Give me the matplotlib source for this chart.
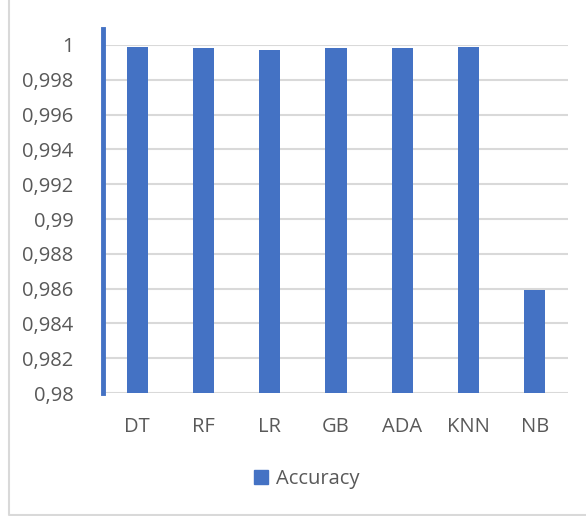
import matplotlib.pyplot as plt
from matplotlib.lines import Line2D
from matplotlib.patches import Patch
import matplotlib.ticker as ticker

models = ["DT", "RF", "LR", "GB", "ADA", "KNN", "NB"]
accuracy = [0.9999, 0.9998, 0.9997, 0.9998, 0.9998, 0.9999, 0.9859]
yticks = [0.98, 0.982, 0.984, 0.986, 0.988, 0.99, 0.992, 0.994, 0.996, 0.998, 1.0]

bar_color = "#4472C4"
text_color = "#595959"
grid_color = "#D9D9D9"

plt.rcParams["font.family"] = ["Open Sans", "DejaVu Sans"]

fig = plt.figure(figsize=(5.86, 5.16), dpi=100)
ax = fig.add_axes([104 / 586, 1 - 393 / 516, 464 / 586, 348 / 516])

ax.bar(models, accuracy, width=0.32, color=bar_color, zorder=3)
ax.set_ylim(0.98, 1.0)
ax.set_xlim(-0.5, len(models) - 0.5)
ax.set_yticks(yticks)


def comma_fmt(v, pos):
    s = f"{v:.3f}".rstrip("0").rstrip(".")
    return s.replace(".", ",")


ax.yaxis.set_major_formatter(ticker.FuncFormatter(comma_fmt))
ax.grid(axis="y", color=grid_color, linewidth=1.5, zorder=0)
for side in ["top", "right", "left", "bottom"]:
    ax.spines[side].set_visible(False)
ax.tick_params(axis="both", length=0, labelsize=14.5, labelcolor=text_color)
ax.tick_params(axis="y", pad=22)
ax.tick_params(axis="x", pad=17)

# thick blue axis line on the left, running a bit above the plot
fig.add_artist(Line2D([102.5 / 586, 102.5 / 586], [1 - 393 / 516, 1 - 29 / 516],
                      color=bar_color, linewidth=3.5, transform=fig.transFigure))

# outer chart frame (left and bottom edges)
fig.add_artist(Line2D([9 / 586, 9 / 586, 1], [1, 1.5 / 516, 1.5 / 516],
                      color=grid_color, linewidth=1.5, transform=fig.transFigure))

fig.legend(handles=[Patch(color=bar_color, label="Accuracy")],
           loc="center", bbox_to_anchor=(307 / 586, 1 - 479 / 516),
           frameon=False, fontsize=14.5, labelcolor=text_color,
           handlelength=0.7, handleheight=0.7, handletextpad=0.4)

fig.savefig("out.png", dpi=100)
